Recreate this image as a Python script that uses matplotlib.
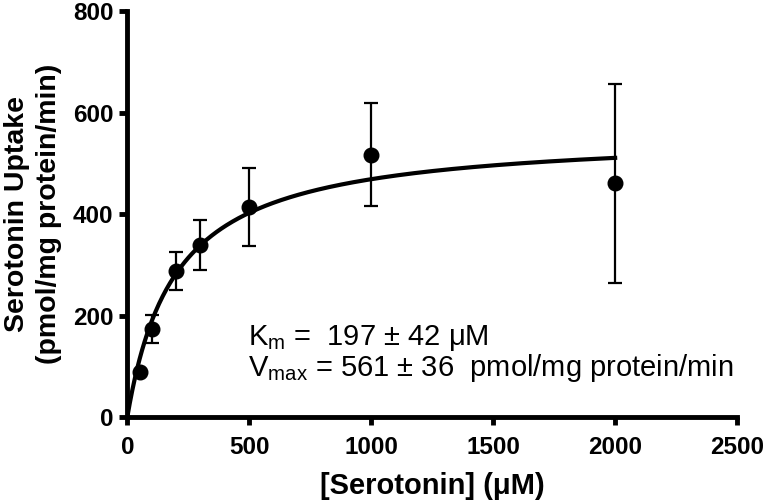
import numpy as np
import matplotlib
matplotlib.use("Agg")
import matplotlib.pyplot as plt

plt.rcParams['font.family'] = ['Liberation Sans', 'DejaVu Sans']

# measured uptake (mean +/- SEM)
conc = [50, 100, 200, 300, 500, 1000, 2000]
uptake = [88, 173, 288, 339, 414, 517, 461]
err = [0, 28, 38, 50, 77, 101, 196]

# Michaelis-Menten fit parameters as printed on the chart
km = 197
vmax = 561

fig = plt.figure(figsize=(7.67, 5.03), dpi=100)
ax = fig.add_axes([0.166, 0.171, 0.795, 0.807])

s = np.linspace(0, 2000, 400)
ax.plot(s, vmax * s / (km + s), color='black', lw=3, zorder=2)
ax.errorbar(conc, uptake, yerr=err, fmt='o', color='black', ms=10.5,
            elinewidth=1.6, capsize=5, capthick=1.6, zorder=3)

ax.set_xlim(0, 2500)
ax.set_ylim(0, 800)
ax.set_xticks([0, 500, 1000, 1500, 2000, 2500])
ax.set_yticks([0, 200, 400, 600, 800])
for side in ['top', 'right']:
    ax.spines[side].set_visible(False)
for side in ['left', 'bottom']:
    ax.spines[side].set_linewidth(3.5)
ax.tick_params(width=3.5, length=6, labelsize=17.5, pad=4)
ax.tick_params(axis='x', pad=8)
for lab in ax.get_xticklabels() + ax.get_yticklabels():
    lab.set_fontweight('bold')

ax.set_xlabel('[Serotonin] (\u03bcM)', fontsize=21, fontweight='bold', labelpad=9)
ax.set_ylabel('Serotonin Uptake\n(pmol/mg protein/min)', fontsize=20.5,
              fontweight='bold', labelpad=8, linespacing=1.3)

ax.text(495, 142, 'K$_\\mathregular{m}$ =  197 \u00b1 42 \u03bcM', fontsize=21, va='baseline')
ax.text(495, 81, 'V$_\\mathregular{max}$ = 561 \u00b1 36  pmol/mg protein/min',
        fontsize=21, va='baseline')

fig.savefig('out.png', dpi=100)
